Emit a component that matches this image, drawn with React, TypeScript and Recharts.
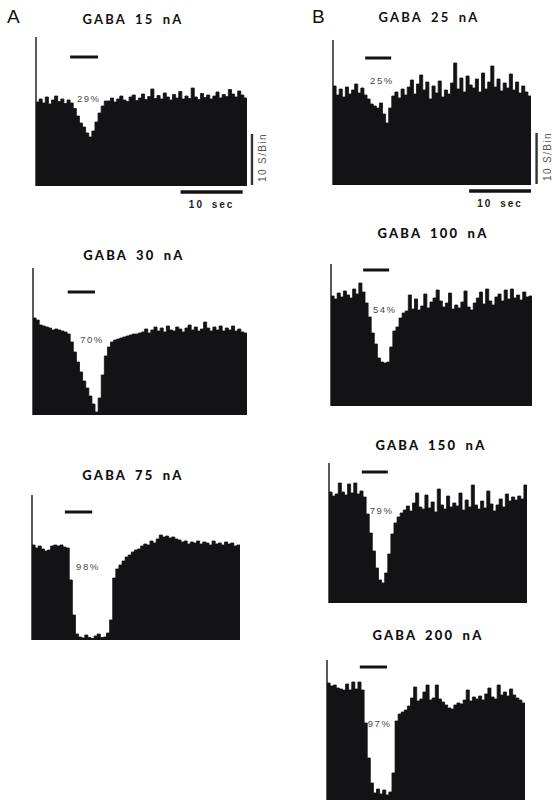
import * as React from 'react';
import { AreaChart, Area, XAxis, YAxis, ReferenceLine, ReferenceDot } from 'recharts';

// firing rate per 0.5 s bin (spikes/bin)
const BIN = 0.5;

const a15Rate = [
  16.8, 17.4, 16.6, 17.8, 16.4, 17.2, 18.0, 16.9, 17.4, 16.5, 17.2, 16.6,
  15.5, 14.0, 12.6, 11.8, 10.6, 9.8, 11.0, 12.8, 14.6, 16.0, 17.0,
  17.0, 17.6, 16.8, 17.4, 18.0, 17.2, 16.9, 17.8, 18.2, 17.1, 17.6, 18.4, 17.3, 17.9, 19.4,
  17.5, 18.1, 17.4, 18.6, 17.8, 17.2, 18.3, 17.6, 18.9, 17.4, 18.0, 17.5, 19.6, 17.8, 17.3,
  18.5, 17.7, 18.2, 17.4, 18.0, 18.8, 17.6, 18.3, 17.9, 19.3, 18.4, 17.8, 19.0, 18.2, 17.6,
];

const a30Rate = [
  19.4, 19.0, 18.0, 17.8, 17.6, 17.4, 17.0, 17.2, 17.0, 16.8, 16.6, 16.2,
  14.6, 12.6, 10.6, 8.6, 6.8, 5.4, 3.8, 2.2, 0.6, 3.4, 8.0, 11.8, 13.6,
  14.6, 15.0, 15.2, 15.4, 15.6, 15.8, 16.0, 16.2, 16.2, 16.4,
  16.6, 17.2, 16.4, 17.0, 17.6, 16.8, 17.4, 16.6, 17.8, 17.0, 16.8, 17.6, 17.2, 16.6, 17.4,
  18.0, 17.0, 17.6, 16.8, 17.2, 18.6, 17.4, 16.8, 17.6, 17.0, 17.8, 16.8, 17.4, 17.0, 17.8,
  16.8, 17.2, 16.6, 16.4,
];

const a75Rate = [
  19.0, 18.4, 18.8, 18.2, 17.8, 18.0, 18.8, 19.0, 18.8, 19.0, 18.6, 18.4,
  12.0, 5.0, 1.2, 0.6, 0.4, 1.0, 0.5, 0.3, 0.8, 1.2, 0.5, 0.6, 1.4, 4.0,
  12.4, 14.2, 15.0, 15.8, 16.6, 17.0, 17.6, 18.0, 18.2, 18.8, 19.2, 19.0, 19.8, 19.4,
  20.2, 21.0, 20.6, 20.8, 20.4, 20.6, 20.2, 20.0, 19.6, 19.8, 19.2, 19.6, 19.4, 19.8,
  19.2, 19.6, 19.4, 19.0, 19.8, 19.2, 19.4, 19.0, 19.6, 19.2, 19.4, 18.8, 19.0,
];

const b25Rate = [
  19.8, 18.0, 19.2, 17.6, 19.6, 18.2, 19.0, 20.2, 18.4, 19.4, 18.0,
  17.2, 16.2, 15.8, 15.4, 16.4, 14.2, 12.4, 15.4, 17.8,
  18.6, 17.4, 19.2, 18.0, 19.6, 21.0, 18.2, 20.2, 22.0, 19.0, 20.6, 17.2, 19.8, 18.4,
  20.8, 17.6, 19.0, 18.2, 20.4, 24.4, 19.2, 21.4, 18.6, 21.8, 20.0, 19.4, 21.2, 18.6,
  22.4, 19.2, 20.6, 23.8, 19.6, 21.2, 18.8, 20.4, 19.4, 22.2, 19.0, 20.6, 18.4, 19.8,
  18.6, 17.8,
];

const b100Rate = [
  22.0, 21.4, 22.6, 21.8, 23.0, 22.2, 21.6, 23.4, 22.4, 24.6, 22.8,
  20.6, 17.8, 14.6, 12.4, 9.6, 8.8, 8.6, 8.8, 11.8, 15.0, 15.8, 17.6, 18.6, 19.0,
  22.2, 19.4, 21.4, 19.2, 20.0, 22.4, 19.6, 20.8, 21.6, 23.2, 21.0, 19.8, 20.6, 22.6,
  19.4, 20.2, 19.6, 20.8, 23.0, 19.8, 19.2, 20.6, 21.6, 22.8, 20.4, 23.4, 21.0, 20.2,
  21.8, 22.4, 21.0, 23.2, 21.4, 23.4, 21.6, 22.2, 21.2, 22.8, 21.8, 22.0,
];

const b150Rate = [
  22.2, 21.4, 21.8, 24.0, 22.2, 21.6, 23.8, 22.0, 24.0, 21.8, 22.4, 21.2,
  17.8, 14.0, 10.4, 7.0, 4.6, 4.0, 6.0, 9.8, 13.8, 16.0, 17.2, 18.0, 18.6,
  19.4, 18.4, 20.0, 22.0, 19.2, 18.8, 21.6, 19.0, 20.2, 18.2, 22.8, 19.6, 18.8, 21.4,
  19.2, 20.0, 19.4, 22.0, 18.6, 20.6, 19.2, 23.6, 19.6, 18.8, 20.4, 19.0, 22.4, 19.8,
  18.4, 19.6, 20.8, 19.2, 21.8, 20.4, 21.2, 20.6, 21.4, 20.8, 23.6,
];

const b200Rate = [
  24.0, 23.4, 23.6, 23.0, 22.8, 22.6, 23.8, 22.6, 24.2, 22.8, 24.2, 22.6,
  16.0, 9.0, 4.0, 2.0, 2.8, 1.8, 2.6, 1.6, 2.2, 6.0, 16.4, 17.8, 18.2, 18.6,
  19.4, 21.0, 23.2, 20.4, 20.8, 22.2, 23.6, 20.6, 21.0, 23.6, 20.8, 20.2, 19.6,
  19.0, 18.8, 19.6, 20.0, 19.8, 20.6, 22.6, 20.4, 21.2, 20.8, 21.4, 20.6, 21.8,
  23.0, 21.2, 20.8, 23.6, 21.6, 22.2, 21.4, 22.8, 21.6, 21.0, 20.6, 20.0,
];

const rates = [a15Rate, a30Rate, a75Rate, b25Rate, b100Rate, b150Rate, b200Rate];
const titles = ['GABA 15 nA', 'GABA 30 nA', 'GABA 75 nA', 'GABA 25 nA', 'GABA 100 nA', 'GABA 150 nA', 'GABA 200 nA'];
const inhibition = ['29%', '70%', '98%', '25%', '54%', '79%', '97%'];
// GABA ejection window, seconds
const stimStart = [5.5, 5.6, 5.3, 5.2, 5.2, 5.3, 5.3];
const stimEnd = [10.0, 10.0, 9.7, 9.4, 9.4, 9.5, 9.7];

// placement of each histogram on the page
const layout = [
  { left: 36, top: 37, width: 211, height: 149, yMax: 29.8, tx: 133, ty: 19, stimY: 25.8, pctT: 8.5, pctV: 17.6, heavy: false },
  { left: 33, top: 268, width: 214, height: 147, yMax: 29.4, tx: 134, ty: 255, stimY: 24.6, pctT: 9.5, pctV: 15.2, heavy: true },
  { left: 32, top: 495, width: 208, height: 145, yMax: 29.0, tx: 133, ty: 475, stimY: 25.6, pctT: 9.0, pctV: 14.8, heavy: true },
  { left: 333, top: 40, width: 198, height: 145, yMax: 29.0, tx: 429, ty: 17, stimY: 25.4, pctT: 7.9, pctV: 21.0, heavy: false },
  { left: 331, top: 264, width: 201, height: 142, yMax: 28.4, tx: 433, ty: 233, stimY: 27.2, pctT: 8.7, pctV: 19.4, heavy: true },
  { left: 329, top: 463, width: 198, height: 140, yMax: 28.0, tx: 431, ty: 445, stimY: 26.2, pctT: 8.5, pctV: 18.6, heavy: true },
  { left: 327, top: 660, width: 198, height: 143, yMax: 28.6, tx: 428, ty: 635, stimY: 27.2, pctT: 8.5, pctV: 16.0, heavy: true },
];

// calibration bars: 10 spikes/bin and 10 s
const scaleBars: Record<number, { vx: number; t0: number; t1: number }> = {
  0: { vx: 34.8, t0: 23.3, t1: 33.3 },
  3: { vx: 32.9, t0: 22.0, t1: 32.0 },
};

const INK = '#131315';
const M = { top: 4, right: 44, bottom: 36, left: 4 };
const FONT = '"Liberation Sans", Arial, sans-serif';

const pctLabel = (text: string) => (props: any) => {
  const { x, y, width, height } = props.viewBox;
  return (
    <text x={x + width / 2} y={y + height / 2} textAnchor="middle" dominantBaseline="central"
      fontFamily={FONT} fontSize={9.5} fill="#4a4a4a" style={{ letterSpacing: 1.5 }}>
      {text}
    </text>
  );
};

const vertLabel = (props: any) => {
  const { x, y, height } = props.viewBox;
  const cx = x + 11;
  const cy = y + height / 2 - 2;
  return (
    <text x={cx} y={cy} transform={`rotate(-90 ${cx} ${cy})`} textAnchor="middle" dominantBaseline="central"
      fontFamily={FONT} fontSize={10} fill="#555" style={{ letterSpacing: 1.4 }}>
      10 S/Bin
    </text>
  );
};

const secLabel = (props: any) => {
  const { x, y, width } = props.viewBox;
  return (
    <text x={x + width / 2} y={y + 12} textAnchor="middle" dominantBaseline="central"
      fontFamily={FONT} fontSize={10} fontWeight={700} fill="#222" style={{ letterSpacing: 2, wordSpacing: 3 }}>
      10 sec
    </text>
  );
};

function Histogram({ idx }: { idx: number }) {
  const p = layout[idx];
  const vals = rates[idx];
  const dur = vals.length * BIN;
  const data = vals.map((v, i) => ({ t: i * BIN, v }));
  data.push({ t: dur, v: vals[vals.length - 1] });
  const sb = scaleBars[idx];

  return (
    <div style={{ position: 'absolute', left: p.left - M.left, top: p.top - M.top }}>
      <AreaChart width={p.width + M.left + M.right} height={p.height + M.top + M.bottom} data={data} margin={M}>
        <XAxis type="number" dataKey="t" domain={[0, dur]} hide />
        <YAxis type="number" domain={[0, p.yMax]} hide allowDataOverflow />
        <Area type="stepAfter" dataKey="v" stroke={INK} strokeWidth={0.8} fill={INK} fillOpacity={1}
          dot={false} activeDot={false} isAnimationActive={false} />
        {/* left axis line, full height of the plot */}
        <ReferenceLine segment={[{ x: 0, y: 0 }, { x: 0, y: p.yMax }]} stroke={INK} strokeWidth={1.4}
          ifOverflow="visible" />
        <ReferenceLine segment={[{ x: stimStart[idx], y: p.stimY }, { x: stimEnd[idx], y: p.stimY }]}
          stroke={INK} strokeWidth={3} />
        <ReferenceDot x={p.pctT} y={p.pctV} r={1} fill="none" stroke="none" label={pctLabel(inhibition[idx])} />
        {sb && (
          <ReferenceLine segment={[{ x: sb.vx, y: 0.2 }, { x: sb.vx, y: 10.4 }]} stroke="#333" strokeWidth={2.4}
            ifOverflow="visible" label={vertLabel} />
        )}
        {sb && (
          <ReferenceLine segment={[{ x: sb.t0, y: -1.2 }, { x: sb.t1, y: -1.2 }]} stroke={INK} strokeWidth={3.5}
            ifOverflow="visible" label={secLabel} />
        )}
      </AreaChart>
    </div>
  );
}

export default function App() {
  return (
    <div style={{ position: 'absolute', left: 0, top: 0, width: 553, height: 800, background: '#fff', overflow: 'hidden' }}>
      <div style={{ position: 'absolute', left: 7, top: 6, fontFamily: FONT, fontSize: 19, color: '#111' }}>A</div>
      <div style={{ position: 'absolute', left: 312, top: 6, fontFamily: FONT, fontSize: 19, color: '#111' }}>B</div>
      {layout.map((p, i) => (
        <div key={'t' + i} style={{
          position: 'absolute', left: p.tx - 100, width: 200, top: p.ty - 8, lineHeight: '16px',
          textAlign: 'center', fontFamily: 'Lato, sans-serif', fontSize: 13, fontWeight: p.heavy ? 900 : 700,
          letterSpacing: 2.2, wordSpacing: 3, color: '#111',
        }}>
          {titles[i]}
        </div>
      ))}
      {layout.map((_, i) => <Histogram key={i} idx={i} />)}
    </div>
  );
}
